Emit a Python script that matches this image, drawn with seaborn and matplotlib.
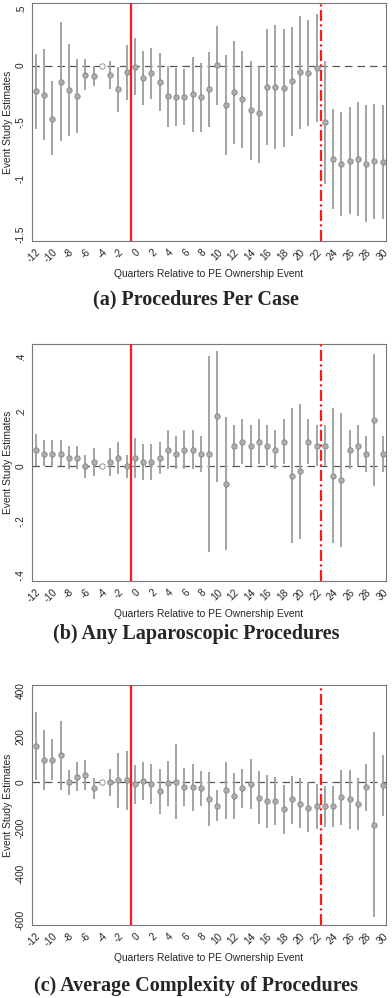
import numpy as np
import pandas as pd
import seaborn as sns
import matplotlib
matplotlib.use("Agg")
import matplotlib.pyplot as plt

quarters = list(range(-12, 31))

# (a) Procedures Per Case
a_est = [-0.226, -0.258, -0.469, -0.142, -0.214, -0.267, -0.083, -0.095, 0.0, -0.083,
         -0.211, -0.056, -0.009, -0.113, -0.065, -0.142, -0.270, -0.279, -0.279, -0.254,
         -0.276, -0.205, 0.006, -0.347, -0.237, -0.300, -0.395, -0.424, -0.187, -0.187,
         -0.196, -0.139, -0.056, -0.062, -0.018, -0.501, -0.828, -0.872, -0.843, -0.828,
         -0.869, -0.849, -0.858]
a_hi = [0.104, 0.145, -0.139, 0.386, 0.196, 0.062, 0.056, 0.0, 0.0, 0.045,
        -0.012, 0.187, 0.246, 0.128, 0.160, 0.113, 0.0, -0.021, -0.033, 0.074,
        0.027, 0.125, 0.356, 0.095, 0.220, 0.131, 0.045, 0.0, 0.326, 0.359,
        0.323, 0.341, 0.442, 0.407, 0.454, 0.042, -0.386, -0.412, -0.371, -0.323,
        -0.353, -0.341, -0.347]
a_lo = [-0.558, -0.662, -0.795, -0.671, -0.620, -0.596, -0.220, -0.181, 0.0, -0.211,
        -0.410, -0.303, -0.258, -0.353, -0.294, -0.400, -0.543, -0.537, -0.528, -0.588,
        -0.585, -0.540, -0.347, -0.789, -0.697, -0.733, -0.840, -0.861, -0.700, -0.736,
        -0.721, -0.623, -0.558, -0.534, -0.499, -1.047, -1.273, -1.335, -1.315, -1.332,
        -1.383, -1.359, -1.365]

# (b) Any Laparoscopic Procedures
b_est = [0.061, 0.046, 0.046, 0.046, 0.031, 0.031, 0.0, 0.016, 0.0, 0.016,
         0.031, 0.0, 0.031, 0.016, 0.016, 0.031, 0.061, 0.046, 0.061, 0.061,
         0.046, 0.046, 0.186, -0.064, 0.076, 0.090, 0.076, 0.090, 0.076, 0.061,
         0.090, -0.034, -0.018, 0.090, 0.076, 0.076, -0.034, -0.049, 0.061, 0.076,
         0.046, 0.171, 0.046]
b_hi = [0.118, 0.096, 0.096, 0.096, 0.073, 0.073, 0.043, 0.068, 0.0, 0.068,
        0.090, 0.043, 0.104, 0.082, 0.082, 0.090, 0.133, 0.111, 0.133, 0.133,
        0.111, 0.404, 0.424, 0.180, 0.153, 0.172, 0.153, 0.172, 0.153, 0.133,
        0.172, 0.213, 0.228, 0.172, 0.153, 0.153, 0.213, 0.197, 0.133, 0.153,
        0.111, 0.412, 0.111]
b_lo = [0.0, 0.0, 0.0, 0.0, -0.011, -0.011, -0.042, -0.035, 0.0, -0.035,
        -0.029, -0.042, -0.042, -0.051, -0.051, -0.029, -0.011, -0.011, -0.011, -0.011,
        -0.022, -0.313, -0.056, -0.308, 0.0, 0.007, 0.0, 0.007, 0.0, -0.011,
        0.007, -0.280, -0.267, 0.007, 0.0, 0.0, -0.280, -0.294, -0.011, 0.0,
        -0.022, -0.072, -0.022]

# (c) Average Complexity of Procedures
c_est = [158, 98, 99, 118, 0, 26, 34, -26, 0, 0,
         9, 9, -6, 6, -7, -38, -3, 4, -19, -22,
         -26, -72, -101, -34, -58, -26, -6, -66, -83, -80,
         -115, -74, -92, -110, -102, -104, -105, -63, -74, -92,
         -20, -185, -12]
c_hi = [310, 231, 188, 269, 53, 89, 99, 18, 0, 60,
        127, 139, 77, 88, 79, 60, 96, 169, 63, 80,
        51, 45, -34, 91, 41, 58, 102, 48, 32, 26,
        -9, 28, 18, 0, -7, -15, -15, 55, 54, 20,
        82, 219, 120]
c_lo = [9, -32, 9, -31, -53, -37, -34, -72, 0, -58,
        -110, -121, -92, -77, -95, -136, -104, -161, -101, -124,
        -105, -190, -169, -161, -161, -110, -114, -183, -200, -188,
        -225, -180, -199, -218, -203, -196, -196, -184, -203, -207,
        -123, -590, -145]

ref_quarter = -4
panels = [
    ("(a) Procedures Per Case", a_est, a_lo, a_hi, (-1.556, 0.556),
     [0.5, 0, -0.5, -1, -1.5], [".5", "0", "-.5", "-1", "-1.5"]),
    ("(b) Any Laparoscopic Procedures", b_est, b_lo, b_hi, (-0.42, 0.448),
     [0.4, 0.2, 0, -0.2, -0.4], [".4", ".2", "0", "-.2", "-.4"]),
    ("(c) Average Complexity of Procedures", c_est, c_lo, c_hi, (-623, 426),
     [400, 200, 0, -200, -400, -600], ["400", "200", "0", "-200", "-400", "-600"]),
]

sns.set_theme(style="white")
plt.rcParams['font.family'] = ['Liberation Sans', 'DejaVu Sans']
plt.rcParams['axes.unicode_minus'] = False

W, H = 392, 998
fig = plt.figure(figsize=(W / 100, H / 100), dpi=100)

# axes boxes in pixels: (top, bottom)
boxes = [(3, 241), (344, 581), (685, 925)]
caption_y = [299, 634, 986]
left, right = 32, 386

grey = "#a3a3a3"
for (title, est, lo, hi, ylim, yt, ytl), (top, bot), cy in zip(panels, boxes, caption_y):
    ax = fig.add_axes([left / W, 1 - bot / H, (right - left) / W, (bot - top) / H])
    df = pd.DataFrame({"q": quarters, "est": est, "lo": lo, "hi": hi})
    main = df[df.q != ref_quarter]
    ref = df[df.q == ref_quarter]

    ax.axhline(0, color="#555555", lw=0.9, ls=(0, (6, 4)), zorder=1)
    ax.vlines(main.q, main.lo, main.hi, color=grey, lw=1.4, zorder=2)
    sns.scatterplot(data=main, x="q", y="est", ax=ax, s=15, color="#adadad",
                    edgecolor="#858585", linewidth=0.6, zorder=3, legend=False)
    sns.scatterplot(data=ref, x="q", y="est", ax=ax, s=15, color="white",
                    edgecolor="#858585", linewidth=0.6, zorder=3, legend=False)
    ax.axvline(-0.5, color="#ff1a1a", lw=1.6, zorder=4)
    ax.axvline(22.5, color="#ff1a1a", lw=1.6, ls=(0, (5, 1.5, 1, 1.5)), zorder=4)

    ax.set_xlim(-12.45, 30.4)
    ax.set_ylim(*ylim)
    ax.set_xticks(range(-12, 31, 2))
    ax.set_xticks(range(-12, 31), minor=True)
    ax.set_xticklabels([str(v) for v in range(-12, 31, 2)], rotation=45,
                       ha="right", rotation_mode="anchor", fontsize=7.3)
    ax.set_yticks(yt)
    ax.set_yticklabels(ytl, rotation=90, va="center", fontsize=7.3)
    ax.tick_params(axis="both", which="both", direction="out", length=3,
                   width=0.7, color="#444444", pad=1.5)
    for s in ax.spines.values():
        s.set_color("#777777")
        s.set_linewidth(0.8)
    ax.set_xlabel("Quarters Relative to PE Ownership Event", fontsize=7.4, labelpad=3)
    ax.set_ylabel("Event Study Estimates", fontsize=7.4, labelpad=2)

    fig.text(0.5, 1 - cy / H, title, ha="center", va="center", fontsize=14.5,
             fontweight="bold", family=["Liberation Serif", "DejaVu Serif"])

fig.savefig("out.png", dpi=100)
